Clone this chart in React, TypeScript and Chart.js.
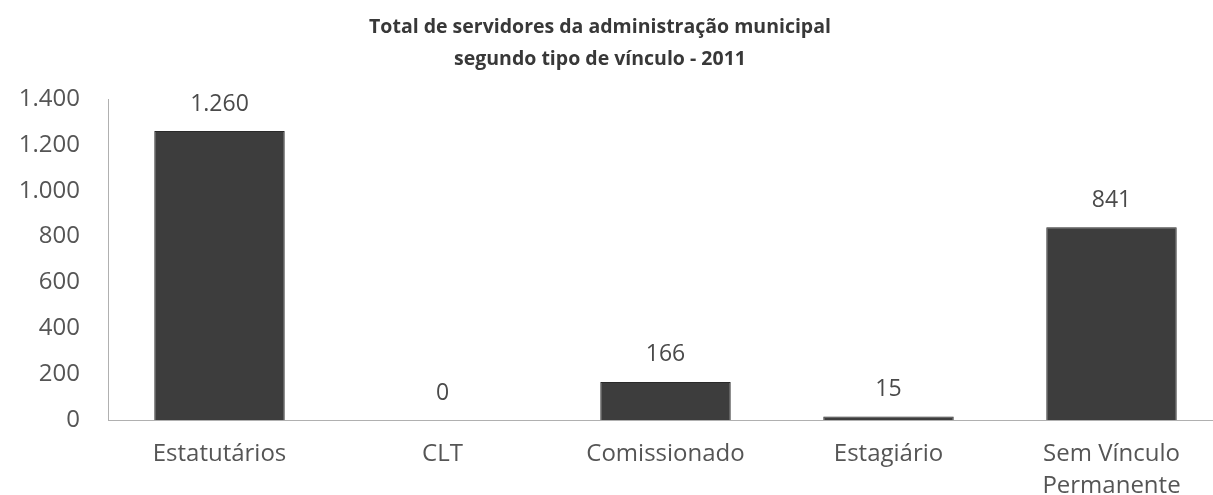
import React, { useEffect, useRef } from "react";
import { Chart, registerables } from "chart.js";

Chart.register(...registerables);

const categories: (string | string[])[] = [
  "Estatutários",
  "CLT",
  "Comissionado",
  "Estagiário",
  ["Sem Vínculo", "Permanente"],
];
const servidores: number[] = [1260, 0, 166, 15, 841];
const titleLines: string[] = [
  "Total de servidores da administração municipal",
  "segundo tipo de vínculo - 2011",
];
const yMax = 1400;
const yStep = 200;

const FONT = "'Open Sans', 'DejaVu Sans', sans-serif";

const fmt = (v: number) =>
  Math.round(v).toString().replace(/\B(?=(\d{3})+(?!\d))/g, ".");

const CANVAS_W = 1246;
const CANVAS_H = 495;

const titlePlugin = {
  id: "customTitle",
  afterDraw(chart: any) {
    const ctx = chart.ctx;
    ctx.save();
    ctx.fillStyle = "#383838";
    ctx.font = `bold 19.5px ${FONT}`;
    ctx.textAlign = "center";
    ctx.textBaseline = "middle";
    const cx = chart.width / 2;
    ctx.fillText(titleLines[0], cx, 27);
    ctx.fillText(titleLines[1], cx, 59);
    ctx.restore();
  },
};

const labelPlugin = {
  id: "valueLabels",
  afterDatasetsDraw(chart: any) {
    const ctx = chart.ctx;
    const meta = chart.getDatasetMeta(0);
    const data = chart.data.datasets[0].data as number[];
    ctx.save();
    ctx.fillStyle = "#4a4a4a";
    ctx.font = `23px ${FONT}`;
    ctx.textAlign = "center";
    ctx.textBaseline = "middle";
    meta.data.forEach((el: any, i: number) => {
      ctx.fillText(fmt(data[i]), el.x, el.y - 27);
    });
    ctx.restore();
  },
};

export default function App() {
  const ref = useRef<HTMLCanvasElement | null>(null);

  useEffect(() => {
    if (!ref.current) return;
    const chart = new Chart(ref.current, {
      type: "bar",
      data: {
        labels: categories as any,
        datasets: [
          {
            data: servidores,
            backgroundColor: "#3d3d3d",
            borderColor: "#2a2a2a",
            borderWidth: 1,
            categoryPercentage: 1,
            barPercentage: 0.585,
          },
        ],
      },
      options: {
        responsive: false,
        animation: false,
        devicePixelRatio: 1,
        layout: { padding: { top: 99, left: 0, right: 0, bottom: 0 } },
        plugins: {
          legend: { display: false },
          title: { display: false },
          tooltip: { enabled: false },
        },
        scales: {
          x: {
            grid: { display: false, drawTicks: false },
            border: { display: true, color: "#b0b0b0", width: 1 },
            ticks: {
              color: "#555555",
              font: { family: FONT, size: 24, lineHeight: 1.3 },
              padding: 19,
              maxRotation: 0,
              autoSkip: false,
            },
            afterFit: (s: any) => {
              s.height = 75;
            },
          },
          y: {
            min: 0,
            max: yMax,
            grid: { display: false, drawTicks: false },
            border: { display: true, color: "#b0b0b0", width: 1 },
            ticks: {
              stepSize: yStep,
              color: "#555555",
              font: { family: FONT, size: 24 },
              padding: 28,
              callback: (v: any) => fmt(Number(v)),
            },
            afterFit: (s: any) => {
              s.width = 131;
            },
          },
        },
      },
      plugins: [titlePlugin, labelPlugin],
    });
    return () => chart.destroy();
  }, []);

  return (
    <div
      style={{
        position: "fixed",
        left: 0,
        top: 0,
        width: 1213,
        height: 495,
        overflow: "hidden",
        background: "#ffffff",
      }}
    >
      <canvas
        ref={ref}
        width={CANVAS_W}
        height={CANVAS_H}
        style={{
          position: "absolute",
          left: -23,
          top: 0,
          width: CANVAS_W,
          height: CANVAS_H,
        }}
      />
    </div>
  );
}
